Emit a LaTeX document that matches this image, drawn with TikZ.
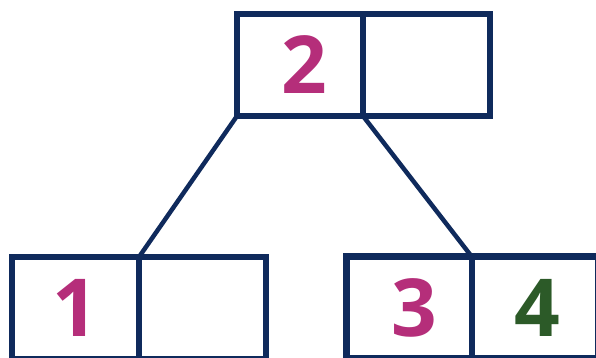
\documentclass[tikz,border=0pt]{standalone}
\usepackage{fontspec}
\setmainfont{Open Sans}
\definecolor{navy}{HTML}{0F2A5C}
\definecolor{keymag}{HTML}{B52E7A}
\definecolor{keygreen}{HTML}{2C5A28}
\begin{document}
\begin{tikzpicture}[x=1pt,y=-1pt,
  cell/.style={draw=navy, line width=6.5pt, fill=white, inner sep=0pt, minimum height=102pt},
  digit/.style={inner sep=0pt, font=\fontsize{80}{80}\selectfont\bfseries},
  link/.style={draw=navy, line width=4.5pt}]
\useasboundingbox (0,0) rectangle (596,358);
\begin{scope}
\clip (0,0) rectangle (596,358);
% connectors
\coordinate (tlc) at (237,116);
\coordinate (trc) at (363,116);
\coordinate (blc) at (139,257);
\coordinate (brc) at (472,257);
\draw[link] (tlc) -- (blc);
\draw[link] (trc) -- (brc);
% top node
\node[cell, minimum width=126pt] (t1) at (300,65) {};
\node[cell, minimum width=127pt] (t2) at (426.5,65) {};
% bottom left node
\node[cell, minimum width=127pt] (l1) at (75.5,308) {};
\node[cell, minimum width=127pt] (l2) at (202.5,308) {};
% bottom right node
\node[cell, minimum width=125.5pt] (r1) at (409.25,307.5) {};
\node[cell, minimum width=126pt] (r2) at (535,307.5) {};
% digits
\node[digit, text=keymag] (d2) at ([xshift=4pt]t1.center) {2};
\node[digit, text=keymag] (d1) at ([xshift=0pt]l1.center) {1};
\node[digit, text=keymag] (d3) at ([xshift=5pt]r1.center) {3};
\node[digit, text=keygreen] (d4) at ([xshift=2pt]r2.center) {4};
\end{scope}
\end{tikzpicture}
\end{document}
